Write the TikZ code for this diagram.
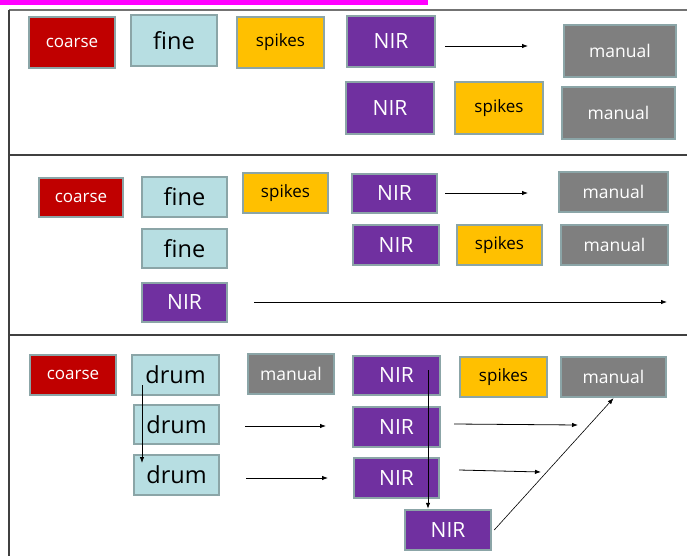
\documentclass[tikz,border=0pt]{standalone}
\usepackage{fontspec}
\setmainfont{Open Sans}
\usetikzlibrary{arrows.meta}
\definecolor{cRed}{HTML}{C00000}
\definecolor{cBlue}{HTML}{B7DEE2}
\definecolor{cOrange}{HTML}{FFC000}
\definecolor{cPurple}{HTML}{7030A0}
\definecolor{cGray}{HTML}{7F7F7F}
\definecolor{cEdge}{HTML}{8BA5A7}
\definecolor{cMag}{HTML}{FF00FF}
\tikzset{
  bx/.style={draw=cEdge, line width=2.4pt, inner sep=0pt, rectangle},
  coarsebox/.style={bx, fill=cRed, text=white, font=\fontsize{17}{20}\selectfont},
  finebox/.style={bx, fill=cBlue, text=black, font=\fontsize{23.5}{27}\selectfont},
  spikebox/.style={bx, fill=cOrange, text=black, font=\fontsize{17}{20}\selectfont},
  nirbox/.style={bx, fill=cPurple, text=white, font=\fontsize{21}{25}\selectfont},
  manbox/.style={bx, fill=cGray, text=white, font=\fontsize{17.5}{20}\selectfont},
  arr/.style={line width=0.8pt, -{Latex[length=6pt,width=4.5pt]}},
  frame/.style={line width=1.3pt, draw=black!75},
}
\begin{document}
\begin{tikzpicture}[x=1pt,y=-1pt]
\useasboundingbox (0,0) rectangle (687,556);
\fill[cMag] (0,0) rectangle (428,5);
% frame
\draw[frame, draw=black!55] (9,10) -- (687,10);
\draw[frame] (9,10) -- (9,556);
\draw[frame] (9,155) -- (687,155);
\draw[frame] (9,335) -- (687,335);

% ---------- section 1
\node[coarsebox, minimum width=86pt, minimum height=51pt] (c1) at (72,42.5) {coarse};
\node[finebox, minimum width=86pt, minimum height=51pt] (f1) at (174,40.5) {fine};
\node[spikebox, minimum width=87pt, minimum height=51pt] (s1) at (280.5,42.5) {spikes};
\node[nirbox, minimum width=88pt, minimum height=51pt] (n1) at (391,41.5) {NIR};
\node[manbox, minimum width=112pt, minimum height=52pt] (m1) at (620,51) {manual};
\node[nirbox, minimum width=88pt, minimum height=52pt] (n2) at (390,108) {NIR};
\node[spikebox, minimum width=88pt, minimum height=52pt] (s2) at (499,108) {spikes};
\node[manbox, minimum width=113pt, minimum height=52pt] (m2) at (618.5,113) {manual};
\coordinate (a1s) at (445,46);
\coordinate (a1e) at (528,46);
\draw[arr] (a1s) -- (a1e);

% ---------- section 2
\node[coarsebox, minimum width=84pt, minimum height=39pt] (c2) at (81,197.5) {coarse};
\node[finebox, minimum width=85pt, minimum height=40pt] (f2) at (184.5,197) {fine};
\node[spikebox, minimum width=85pt, minimum height=40pt] (s3) at (285.5,193) {spikes};
\node[nirbox, minimum width=85pt, minimum height=39pt] (n3) at (394.5,193.5) {NIR};
\node[manbox, minimum width=109pt, minimum height=40pt] (m3) at (613.5,192) {manual};
\node[finebox, minimum width=85pt, minimum height=39pt] (f3) at (184.5,248.5) {fine};
\node[nirbox, minimum width=86pt, minimum height=40pt] (n4) at (396,245) {NIR};
\node[spikebox, minimum width=85pt, minimum height=40pt] (s4) at (499.5,245) {spikes};
\node[manbox, minimum width=107pt, minimum height=40pt] (m4) at (614.5,245) {manual};
\node[nirbox, minimum width=85pt, minimum height=39pt] (n5) at (184.5,302.5) {NIR};
\coordinate (a2s) at (445,193);
\coordinate (a2e) at (528,193);
\draw[arr] (a2s) -- (a2e);
\coordinate (a3s) at (254,302);
\coordinate (a3e) at (667,302);
\draw[arr] (a3s) -- (a3e);

% ---------- section 3
\node[coarsebox, minimum width=86pt, minimum height=40pt] (c3) at (73,375) {coarse};
\node[finebox, minimum width=87pt, minimum height=40pt] (d1) at (175.5,375) {drum};
\node[manbox, minimum width=86pt, minimum height=40pt] (m5) at (291,374) {manual};
\node[nirbox, minimum width=87pt, minimum height=39pt] (n6) at (396.5,375.5) {NIR};
\node[spikebox, minimum width=87pt, minimum height=40pt] (s5) at (503.5,377) {spikes};
\node[manbox, minimum width=105pt, minimum height=40pt] (m6) at (613.5,377) {manual};
\node[finebox, minimum width=85pt, minimum height=39pt] (d2) at (176.5,424.5) {drum};
\node[finebox, minimum width=85pt, minimum height=40pt] (d3) at (176.5,475) {drum};
\node[nirbox, minimum width=87pt, minimum height=40pt] (n7) at (396.5,427) {NIR};
\node[nirbox, minimum width=85pt, minimum height=40pt] (n8) at (396.5,478) {NIR};
\node[nirbox, minimum width=86pt, minimum height=40pt] (n9) at (448,530) {NIR};

\coordinate (v1s) at (142,385);
\coordinate (v1e) at (142,463);
\draw[arr] (v1s) -- (v1e);
\coordinate (h1s) at (245,426);
\coordinate (h1e) at (326,426);
\draw[arr] (h1s) -- (h1e);
\coordinate (h2s) at (246,478);
\coordinate (h2e) at (328,478);
\draw[arr] (h2s) -- (h2e);
\coordinate (v2s) at (428,370);
\draw[arr] (v2s) -- (v2s |- n9.north);
\coordinate (h3s) at (454,424);
\coordinate (h3e) at (578,425);
\draw[arr] (h3s) -- (h3e);
\coordinate (h4s) at (459,470);
\coordinate (h4e) at (541,472);
\draw[arr] (h4s) -- (h4e);
\draw[line width=0.6pt, -{Latex[length=6pt,width=4.5pt]}] ([xshift=2pt]n9.east) -- (m6.south);
\end{tikzpicture}
\end{document}
